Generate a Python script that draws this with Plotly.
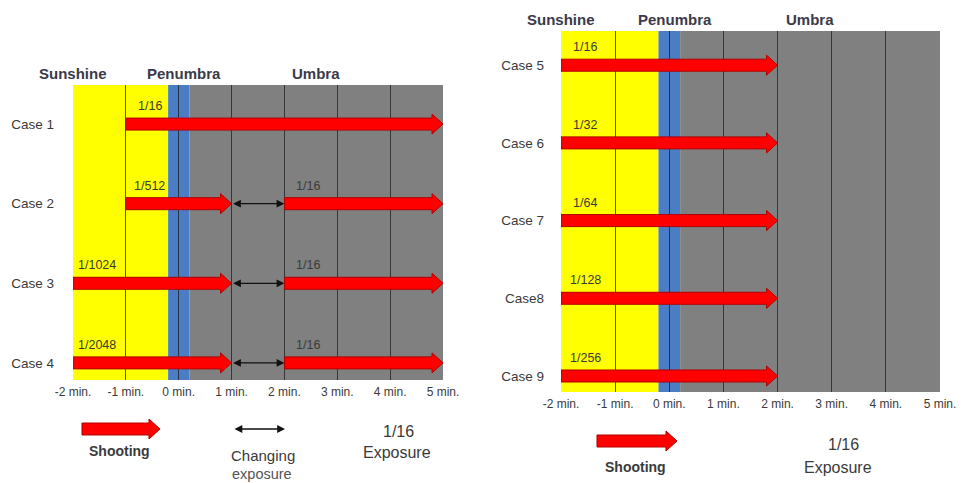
import plotly.graph_objects as go

W, H = 964, 483

# ---------------- data ----------------
TICK_VALUES = [-2, -1, 0, 1, 2, 3, 4, 5]
TICK_LABELS = ["-2 min.", "-1 min.", "0 min.", "1 min.", "2 min.", "3 min.", "4 min.", "5 min."]

PHASE_NAMES = ["Sunshine", "Penumbra", "Umbra"]
PHASE_START = [-2, -0.2, 0.2]
PHASE_END = [-0.2, 0.2, 5]
PHASE_COLORS = ["#FFFF00", "#4A7DC4", "#808080"]
PHASE_LABEL_X = [-2, 0.1, 2.6]

LEFT_CASES = ["Case 1", "Case 2", "Case 3", "Case 4"]
LEFT_SHOOT_CASE = [0, 1, 1, 2, 2, 3, 3]
LEFT_SHOOT_START = [-1, -1, 2, -2, 2, -2, 2]
LEFT_SHOOT_END = [5, 1, 5, 1, 5, 1, 5]
LEFT_SHOOT_EXPOSURE = ["1/16", "1/512", "1/16", "1/1024", "1/16", "1/2048", "1/16"]
LEFT_CHANGE_CASE = [1, 2, 3]
LEFT_CHANGE_START = [1, 1, 1]
LEFT_CHANGE_END = [2, 2, 2]

RIGHT_CASES = ["Case 5", "Case 6", "Case 7", "Case8", "Case 9"]
RIGHT_SHOOT_CASE = [0, 1, 2, 3, 4]
RIGHT_SHOOT_START = [-2, -2, -2, -2, -2]
RIGHT_SHOOT_END = [2, 2, 2, 2, 2]
RIGHT_SHOOT_EXPOSURE = ["1/16", "1/32", "1/64", "1/128", "1/256"]

# ---------------- layout helpers ----------------
FONT = "Liberation Sans, Arial, sans-serif"
RED = "#FF0000"
RED_EDGE = "#B00000"
TXT = "#3a3a3a"

panels = [
    dict(ax="x", ay="y", xpx=(73, 443), ypx=(85, 380), yrange=(3.215, -0.491),
         cases=LEFT_CASES, shoot=(LEFT_SHOOT_CASE, LEFT_SHOOT_START, LEFT_SHOOT_END, LEFT_SHOOT_EXPOSURE),
         change=(LEFT_CHANGE_CASE, LEFT_CHANGE_START, LEFT_CHANGE_END), ystand=18),
    dict(ax="x2", ay="y2", xpx=(561, 940), ypx=(31, 392), yrange=(4.206, -0.44),
         cases=RIGHT_CASES, shoot=(RIGHT_SHOOT_CASE, RIGHT_SHOOT_START, RIGHT_SHOOT_END, RIGHT_SHOOT_EXPOSURE),
         change=([], [], []), ystand=16),
]

fig = go.Figure()
shapes = []
annotations = []

SHAFT = 6.0   # px half height
HEAD = 10.0   # px half height
HEADLEN = 11.0  # px

def arrow_poly(x0, x1, yc, ppx, ppy):
    L = HEADLEN / ppx
    hs = SHAFT / ppy
    hh = HEAD / ppy
    xs = [x0, x1 - L, x1 - L, x1, x1 - L, x1 - L, x0, x0]
    ys = [yc - hs, yc - hs, yc - hh, yc, yc + hh, yc + hs, yc + hs, yc - hs]
    return xs, ys

layout_axes = {}
for i, p in enumerate(panels):
    xmin, xmax = TICK_VALUES[0], TICK_VALUES[-1]
    ppx = (p["xpx"][1] - p["xpx"][0]) / (xmax - xmin)
    ppy = (p["ypx"][1] - p["ypx"][0]) / (p["yrange"][0] - p["yrange"][1])
    xname = "xaxis" if i == 0 else "xaxis2"
    yname = "yaxis" if i == 0 else "yaxis2"
    layout_axes[xname] = dict(
        domain=[p["xpx"][0] / W, p["xpx"][1] / W], range=[xmin, xmax],
        anchor=p["ay"], tickvals=TICK_VALUES, ticktext=TICK_LABELS,
        showgrid=True, gridcolor="rgba(30,30,30,0.75)", gridwidth=1,
        zeroline=False, showline=False, ticks="", ticklabelstandoff=3,
        tickfont=dict(family=FONT, size=12, color=TXT), fixedrange=True,
        automargin=False,
    )
    layout_axes[yname] = dict(
        domain=[1 - p["ypx"][1] / H, 1 - p["ypx"][0] / H], range=list(p["yrange"]),
        anchor=p["ax"], tickvals=list(range(len(p["cases"]))), ticktext=p["cases"],
        showgrid=False, zeroline=False, showline=False, ticks="",
        ticklabelstandoff=p["ystand"],
        tickfont=dict(family=FONT, size=13.5, color=TXT), fixedrange=True,
        automargin=False,
    )
    # background phases
    for s, e, c in zip(PHASE_START, PHASE_END, PHASE_COLORS):
        shapes.append(dict(type="rect", xref=p["ax"], yref=p["ay"] + " domain",
                           x0=s, x1=e, y0=0, y1=1, fillcolor=c,
                           line=dict(width=0), layer="below"))
    # phase labels
    for name, lx in zip(PHASE_NAMES, PHASE_LABEL_X):
        annotations.append(dict(text=name, x=lx, y=1, xref=p["ax"], yref=p["ay"] + " domain",
                                yanchor="middle", xanchor="center", yshift=12, showarrow=False,
                                font=dict(family=FONT, size=15, color="#3a3a48", weight="bold")))
    # shooting arrows
    cidx, starts, ends, exps = p["shoot"]
    for c, s, e, lab in zip(cidx, starts, ends, exps):
        xs, ys = arrow_poly(s, e, c, ppx, ppy)
        fig.add_trace(go.Scatter(x=xs, y=ys, xaxis=p["ax"], yaxis=p["ay"], mode="lines",
                                 fill="toself", fillcolor=RED,
                                 line=dict(color=RED_EDGE, width=1), hoverinfo="skip",
                                 showlegend=False))
        annotations.append(dict(text=lab, x=s + 0.45, y=c, xref=p["ax"], yref=p["ay"],
                                xanchor="center", yanchor="middle", yshift=18, showarrow=False,
                                font=dict(family=FONT, size=12.5, color=TXT)))
    # changing exposure arrows
    cidx, starts, ends = p["change"]
    for c, s, e in zip(cidx, starts, ends):
        annotations.append(dict(text="", x=e, y=c, ax=s, ay=c, xref=p["ax"], yref=p["ay"],
                                axref=p["ax"], ayref=p["ay"], showarrow=True,
                                arrowhead=2, startarrowhead=2, arrowside="end+start",
                                arrowsize=1.2, startarrowsize=1.2, arrowwidth=1.3,
                                arrowcolor="#111111", standoff=0, startstandoff=0))

# ---------------- legends ----------------
def px_path(x0, x1, yc):
    pts = [(x0, yc - SHAFT), (x1 - HEADLEN, yc - SHAFT), (x1 - HEADLEN, yc - HEAD), (x1, yc),
           (x1 - HEADLEN, yc + HEAD), (x1 - HEADLEN, yc + SHAFT), (x0, yc + SHAFT)]
    d = "M " + " L ".join(f"{x / W:.5f},{1 - y / H:.5f}" for x, y in pts) + " Z"
    return d

for (x0, x1, yc) in [(82, 160, 429), (597, 677, 441)]:
    shapes.append(dict(type="path", path=px_path(x0, x1, yc), xref="paper", yref="paper",
                       fillcolor=RED, line=dict(color=RED_EDGE, width=1)))

def ptxt(text, x, y, size=15, bold=False, color="#3a3a3a"):
    f = dict(family=FONT, size=size, color=color)
    if bold:
        f["weight"] = "bold"
    annotations.append(dict(text=text, x=x / W, y=1 - y / H, xref="paper", yref="paper",
                            xanchor="center", yanchor="middle", showarrow=False, font=f))

ptxt("Shooting", 119, 451, 14, True)
ptxt("Changing", 263, 455, 15, False)
ptxt("exposure", 262, 474, 14.5, False, "#555555")
ptxt("1/16", 398, 431, 16)
ptxt("Exposure", 397, 452, 16)
ptxt("Shooting", 635, 467, 14, True)
ptxt("1/16", 843, 444, 16)
ptxt("Exposure", 838, 467, 16)

annotations.append(dict(text="", x=285 / W, y=1 - 429 / H, xref="paper", yref="paper",
                        ax=-52, ay=0, axref="pixel", ayref="pixel", showarrow=True,
                        arrowhead=2, startarrowhead=2, arrowside="end+start",
                        arrowsize=1.2, startarrowsize=1.2, arrowwidth=1.3,
                        arrowcolor="#111111", standoff=0, startstandoff=0))

fig.update_layout(
    width=W, height=H, margin=dict(l=0, r=0, t=0, b=0),
    paper_bgcolor="white", plot_bgcolor="rgba(0,0,0,0)",
    shapes=shapes, annotations=annotations, showlegend=False,
    **layout_axes,
)

fig.write_html("out.html", config={"displayModeBar": False, "staticPlot": True},
               post_script="document.body.style.margin='0';document.body.style.overflow='hidden';")
